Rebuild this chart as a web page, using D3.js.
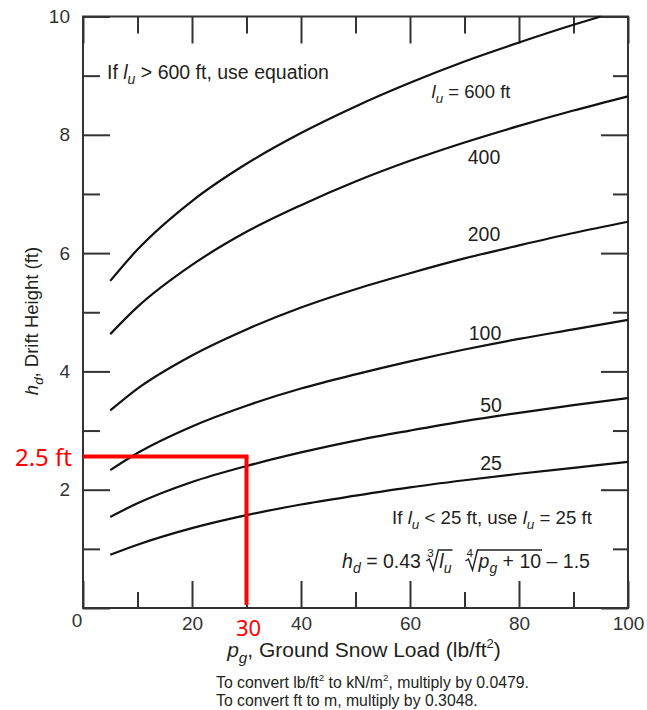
<html lang="en">
<head>
  <meta charset="UTF-8"/>
  <title>Snow drift height chart</title>
  <script src="https://d3js.org/d3.v7.min.js"></script>
  <style>
body {
  margin: 0;
  background: #fff;
  font-family: 'Liberation Sans', Arial, sans-serif;
}

svg {
  display: block;
}

text {
  fill: #231f20;
  white-space: pre;
}

.axis line {
  stroke: #333;
  stroke-width: 2;
}

.axis path {
  display: none;
}

.axis text {
  font-size: 19px;
  font-family: 'Liberation Sans', Arial, sans-serif;
  fill: #333;
}

.frame {
  fill: none;
  stroke: #333;
  stroke-width: 2;
}

.curve {
  fill: none;
  stroke: #111;
  stroke-width: 2.2;
}

.red {
  stroke: #ff0000;
  stroke-width: 4;
}

text.redlabel {
  fill: #ff0000;
  font-family: 'Noto Sans', sans-serif;
}
  </style>
</head>
<body>
  <svg width="647" height="710"></svg>
  <script>

// ground snow load pg (lb/ft2) where the curves were read
const pgValues = [5, 10, 20, 30, 40, 50, 60, 70, 80, 90, 100]
const pgValues600 = [5, 10, 20, 30, 40, 50, 60, 70, 80, 90, 95]

// drift height hd (ft)
const hd25 = [0.90, 1.07, 1.35, 1.57, 1.75, 1.90, 2.04, 2.16, 2.27, 2.37, 2.47]
const hd50 = [1.54, 1.77, 2.13, 2.40, 2.63, 2.83, 3.00, 3.16, 3.30, 3.43, 3.55]
const hd100 = [2.33, 2.62, 3.07, 3.42, 3.71, 3.95, 4.17, 4.37, 4.55, 4.71, 4.87]
const hd200 = [3.34, 3.71, 4.27, 4.71, 5.08, 5.39, 5.66, 5.91, 6.13, 6.34, 6.53]
const hd400 = [4.63, 5.09, 5.80, 6.36, 6.81, 7.21, 7.56, 7.87, 8.15, 8.41, 8.65]
const hd600 = [5.53, 6.06, 6.88, 7.51, 8.03, 8.48, 8.88, 9.24, 9.56, 9.86, 10.0]

const xMajorTicks = [0, 20, 40, 60, 80, 100]
const xMinorTicks = [10, 30, 50, 70, 90]
const yMajorTicks = [0, 2, 4, 6, 8, 10]
const yMinorTicks = [1, 3, 5, 7, 9]

// red reading example
const examplePg = 30
const exampleHd = 2.56

const svg = d3.select('svg')

const plotLeft = 83, plotRight = 628, plotTop = 16.5, plotBottom = 608

const x = d3.scaleLinear().domain([0, 100]).range([plotLeft, plotRight])
const y = d3.scaleLinear().domain([0, 10]).range([plotBottom, plotTop])

// ticks, all pointing into the box
svg.append('g')
  .attr('class', 'axis')
  .attr('transform', `translate(0, ${plotBottom})`)
  .call(d3.axisBottom(x).tickValues(xMajorTicks).tickSize(-27).tickSizeOuter(0).tickPadding(9)
    .tickFormat((d) => d === 0 ? '' : d))

svg.append('g')
  .attr('class', 'axis')
  .attr('transform', `translate(0, ${plotBottom})`)
  .call(d3.axisBottom(x).tickValues(xMinorTicks).tickSize(-16).tickSizeOuter(0).tickFormat(''))

svg.append('g')
  .attr('class', 'axis')
  .attr('transform', `translate(0, ${plotTop})`)
  .call(d3.axisTop(x).tickValues(xMajorTicks).tickSize(-27).tickSizeOuter(0).tickFormat(''))

svg.append('g')
  .attr('class', 'axis')
  .attr('transform', `translate(0, ${plotTop})`)
  .call(d3.axisTop(x).tickValues(xMinorTicks).tickSize(-17).tickSizeOuter(0).tickFormat(''))

svg.append('g')
  .attr('class', 'axis')
  .attr('transform', `translate(${plotLeft}, 0)`)
  .call(d3.axisLeft(y).tickValues(yMajorTicks).tickSize(-27).tickSizeOuter(0).tickPadding(13)
    .tickFormat((d) => d === 0 ? '' : d))

svg.append('g')
  .attr('class', 'axis')
  .attr('transform', `translate(${plotLeft}, 0)`)
  .call(d3.axisLeft(y).tickValues(yMinorTicks).tickSize(-17).tickSizeOuter(0).tickFormat(''))

svg.append('g')
  .attr('class', 'axis')
  .attr('transform', `translate(${plotRight}, 0)`)
  .call(d3.axisRight(y).tickValues(yMajorTicks).tickSize(-27).tickSizeOuter(0).tickFormat(''))

svg.append('g')
  .attr('class', 'axis')
  .attr('transform', `translate(${plotRight}, 0)`)
  .call(d3.axisRight(y).tickValues(yMinorTicks).tickSize(-15).tickSizeOuter(0).tickFormat(''))

// shared zero in the corner
svg.append('text')
  .attr('x', plotLeft - 6)
  .attr('y', plotBottom + 19)
  .attr('text-anchor', 'middle')
  .style('font-size', '19px')
  .style('fill', '#333')
  .text('0')

svg.append('rect')
  .attr('class', 'frame')
  .attr('x', plotLeft)
  .attr('y', plotTop)
  .attr('width', plotRight - plotLeft)
  .attr('height', plotBottom - plotTop)

// curves
const line = d3.line()
  .x((d) => x(d[0]))
  .y((d) => y(d[1]))
  .curve(d3.curveMonotoneX)

const series = [
  { pg: pgValues, hd: hd25 },
  { pg: pgValues, hd: hd50 },
  { pg: pgValues, hd: hd100 },
  { pg: pgValues, hd: hd200 },
  { pg: pgValues, hd: hd400 },
  { pg: pgValues600, hd: hd600 }
]

svg.selectAll('.curve')
  .data(series)
  .enter()
  .append('path')
  .attr('class', 'curve')
  .attr('d', (s) => line(s.pg.map((p, i) => [p, s.hd[i]])))

// rich text: pieces laid out one after another
// {root} opens a radical sign, {rootEnd} closes its bar
function rich (g, x0, yb, parts, size) {
  let cx = x0
  let rx = 0
  parts.forEach((p) => {
    if (p.root) {
      rx = cx
      cx += 13
      return
    }
    if (p.rootEnd) {
      const topY = yb - size * 0.92
      g.append('path')
        .attr('d', `M${rx},${yb - 7} L${rx + 3},${yb - 9} L${rx + 7},${yb + 2} L${rx + 12},${topY} L${cx + 1},${topY}`)
        .attr('fill', 'none')
        .attr('stroke', '#231f20')
        .attr('stroke-width', 1.4)
      g.append('text')
        .attr('x', rx + 1)
        .attr('y', yb - size * 0.55)
        .style('font-size', (size * 0.6) + 'px')
        .text(p.index)
      cx += p.gap || 0
      return
    }
    const fs = p.sub ? size * 0.72 : (p.small ? size * 0.62 : size)
    const t = g.append('text')
      .attr('x', cx)
      .attr('y', yb + (p.sub ? size * 0.28 : 0) - (p.small ? size * 0.45 : 0))
      .style('font-size', fs + 'px')
      .style('font-style', p.it ? 'italic' : 'normal')
      .text(p.t)
    cx += t.node().getComputedTextLength() + (p.gap || 0)
  })
  return cx
}

const notes = svg.append('g')

rich(notes, 107, 79, [
  { t: 'If ' }, { t: 'l', it: true }, { t: 'u', it: true, sub: true }, { t: ' > 600 ft, use equation' }
], 19.5)

function centered (parts, cxm, yb, size) {
  const g = svg.append('g')
  const end = rich(g, 0, yb, parts, size)
  g.attr('transform', `translate(${cxm - end / 2}, 0)`)
}

centered([{ t: 'l', it: true }, { t: 'u', it: true, sub: true }, { t: ' = 600 ft' }], 471, 98, 18.5)
centered([{ t: '400' }], 484, 164, 19.5)
centered([{ t: '200' }], 484, 241, 19.5)
centered([{ t: '100' }], 485, 340, 19.5)
centered([{ t: '50' }], 491, 412, 19.5)
centered([{ t: '25' }], 491, 470, 19.5)

centered([
  { t: 'If ' }, { t: 'l', it: true }, { t: 'u', it: true, sub: true }, { t: ' < 25 ft, use ' },
  { t: 'l', it: true }, { t: 'u', it: true, sub: true }, { t: ' = 25 ft' }
], 492, 524, 18.7)

const eq = svg.append('g')
const eqEnd = rich(eq, 0, 568, [
  { t: 'h', it: true }, { t: 'd', it: true, sub: true }, { t: ' = 0.43 ' },
  { root: true }, { t: 'l', it: true }, { t: 'u', it: true, sub: true }, { rootEnd: true, index: '3', gap: 14 },
  { root: true }, { t: 'p', it: true }, { t: 'g', it: true, sub: true }, { t: ' + 10' }, { rootEnd: true, index: '4' },
  { t: ' – 1.5' }
], 19.5)
eq.attr('transform', `translate(${466 - eqEnd / 2}, 0)`)

// axis titles
const xt = svg.append('g')
const xtEnd = rich(xt, 0, 657, [
  { t: 'p', it: true }, { t: 'g', it: true, sub: true }, { t: ', Ground Snow Load (lb/ft' }, { t: '2', small: true }, { t: ')' }
], 21)
xt.attr('transform', `translate(${364 - xtEnd / 2}, 0)`)

const yt = svg.append('g')
const ytEnd = rich(yt, 0, 0, [
  { t: 'h', it: true }, { t: 'd', it: true, sub: true }, { t: ', Drift Height (ft)' }
], 18.5)
yt.attr('transform', `translate(38, ${321 + ytEnd / 2}) rotate(-90)`)

// conversion notes
const fn = svg.append('g')
rich(fn, 216, 688, [
  { t: 'To convert lb/ft' }, { t: '2', small: true }, { t: ' to kN/m' }, { t: '2', small: true }, { t: ', multiply by 0.0479.' }
], 15.8)
rich(fn, 216, 706, [{ t: 'To convert ft to m, multiply by 0.3048.' }], 15.8)

// red reading example
svg.append('line')
  .attr('class', 'red')
  .attr('x1', plotLeft)
  .attr('y1', y(exampleHd))
  .attr('x2', x(examplePg) + 2)
  .attr('y2', y(exampleHd))

svg.append('line')
  .attr('class', 'red')
  .attr('x1', x(examplePg))
  .attr('y1', y(exampleHd))
  .attr('x2', x(examplePg))
  .attr('y2', plotBottom - 3)

svg.append('text')
  .attr('class', 'redlabel')
  .attr('x', 72)
  .attr('y', y(exampleHd) + 9)
  .attr('text-anchor', 'end')
  .style('font-size', '24px')
  .text('2.5 ft')

svg.append('text')
  .attr('class', 'redlabel')
  .attr('x', x(examplePg) + 2)
  .attr('y', 636)
  .attr('text-anchor', 'middle')
  .style('font-size', '22px')
  .text('30')

  </script>
</body>
</html>
